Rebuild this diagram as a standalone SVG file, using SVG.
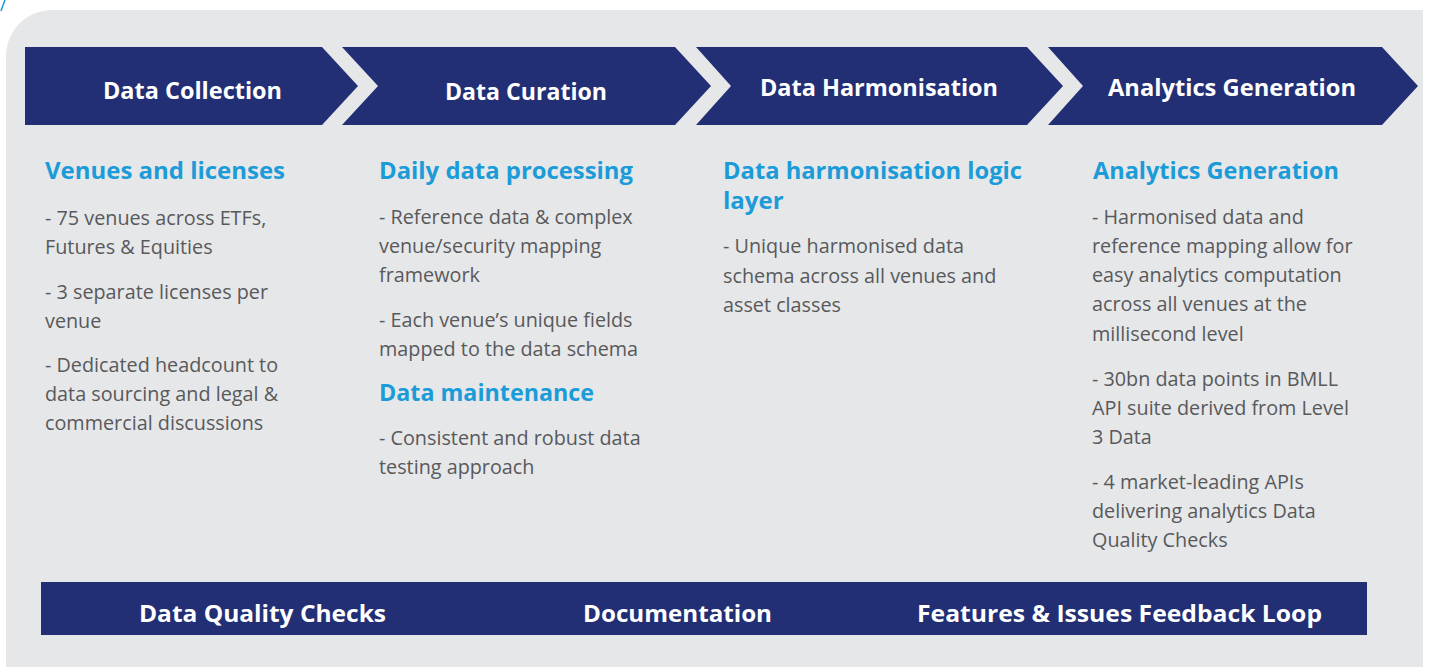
<svg xmlns="http://www.w3.org/2000/svg" width="1429" height="667" viewBox="0 0 1429 667">
<defs>
<style>
.navy{fill:#222f75}
.ttl{font-family:"Open Sans","Liberation Sans",sans-serif;font-weight:700;font-size:24px;fill:#ffffff}
.hd{font-family:"Open Sans","Liberation Sans",sans-serif;font-weight:700;font-size:24px;fill:#1b9bd8}
.bd{font-family:"Open Sans","Liberation Sans",sans-serif;font-weight:400;font-size:19.8px;fill:#58595b}
</style>
</defs>
<rect x="0" y="0" width="1429" height="667" fill="#ffffff"/>
<path d="M6 667 V56 A46 46 0 0 1 52 10 H1423 V667 Z" fill="#e6e7e9"/>
<path d="M1 11 Q3 5 5 0" fill="none" stroke="#1b9bd8" stroke-width="1.5"/>

<g id="stage-data-collection">
<polygon class="navy" points="25,47 322,47 358,86 322,125 25,125"/>
<text class="ttl" x="103" y="99" textLength="179" lengthAdjust="spacingAndGlyphs">Data Collection</text>
</g>
<g id="stage-data-curation">
<polygon class="navy" points="342,47 675,47 711,86 675,125 342,125 378,86"/>
<text class="ttl" x="445" y="100" textLength="162" lengthAdjust="spacingAndGlyphs">Data Curation</text>
</g>
<g id="stage-data-harmonisation">
<polygon class="navy" points="696,47 1027,47 1063,86 1027,125 696,125 731,86"/>
<text class="ttl" x="760" y="96" textLength="238" lengthAdjust="spacingAndGlyphs">Data Harmonisation</text>
</g>
<g id="stage-analytics-generation">
<polygon class="navy" points="1048,47 1382,47 1418,86 1382,125 1048,125 1083,86"/>
<text class="ttl" x="1108" y="96" textLength="248" lengthAdjust="spacingAndGlyphs">Analytics Generation</text>
</g>

<g id="connectors"></g>

<g id="col-venues">
<text class="hd" x="45" y="179" textLength="240" lengthAdjust="spacingAndGlyphs">Venues and licenses</text>
<text class="bd" x="45" y="225">- 75 venues across ETFs,</text>
<text class="bd" x="45" y="254">Futures &amp; Equities</text>
<text class="bd" x="45" y="299">- 3 separate licenses per</text>
<text class="bd" x="45" y="328">venue</text>
<text class="bd" x="45" y="372">- Dedicated headcount to</text>
<text class="bd" x="45" y="401">data sourcing and legal &amp;</text>
<text class="bd" x="45" y="430">commercial discussions</text>
</g>

<g id="col-curation">
<text class="hd" x="379" y="179" textLength="254" lengthAdjust="spacingAndGlyphs">Daily data processing</text>
<text class="bd" x="379" y="224">- Reference data &amp; complex</text>
<text class="bd" x="379" y="253">venue/security mapping</text>
<text class="bd" x="379" y="282">framework</text>
<text class="bd" x="379" y="327">- Each venue’s unique fields</text>
<text class="bd" x="379" y="356">mapped to the data schema</text>
<text class="hd" x="379" y="401" textLength="215" lengthAdjust="spacingAndGlyphs">Data maintenance</text>
<text class="bd" x="379" y="445">- Consistent and robust data</text>
<text class="bd" x="379" y="474">testing approach</text>
</g>

<g id="col-harmonisation">
<text class="hd" x="723" y="179" textLength="299" lengthAdjust="spacingAndGlyphs">Data harmonisation logic</text>
<text class="hd" x="723" y="209">layer</text>
<text class="bd" x="723" y="253">- Unique harmonised data</text>
<text class="bd" x="723" y="283">schema across all venues and</text>
<text class="bd" x="723" y="312">asset classes</text>
</g>

<g id="col-analytics">
<text class="hd" x="1093" y="179" textLength="246" lengthAdjust="spacingAndGlyphs">Analytics Generation</text>
<text class="bd" x="1092" y="224">- Harmonised data and</text>
<text class="bd" x="1092" y="253">reference mapping allow for</text>
<text class="bd" x="1092" y="282">easy analytics computation</text>
<text class="bd" x="1092" y="311">across all venues at the</text>
<text class="bd" x="1092" y="341">millisecond level</text>
<text class="bd" x="1092" y="386">- 30bn data points in BMLL</text>
<text class="bd" x="1092" y="415">API suite derived from Level</text>
<text class="bd" x="1092" y="444">3 Data</text>
<text class="bd" x="1092" y="489">- 4 market-leading APIs</text>
<text class="bd" x="1092" y="518">delivering analytics Data</text>
<text class="bd" x="1092" y="547">Quality Checks</text>
</g>

<g id="bottom-bar">
<rect class="navy" x="41" y="582" width="1326" height="53"/>
<text class="ttl" x="139" y="622" textLength="247" lengthAdjust="spacingAndGlyphs">Data Quality Checks</text>
<text class="ttl" x="583" y="622" textLength="189" lengthAdjust="spacingAndGlyphs">Documentation</text>
<text class="ttl" x="917" y="622" textLength="405" lengthAdjust="spacingAndGlyphs">Features &amp; Issues Feedback Loop</text>
</g>
</svg>
